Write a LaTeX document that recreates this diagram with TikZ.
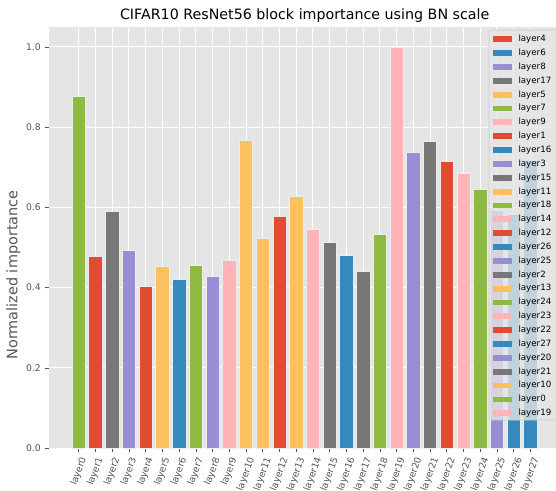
\documentclass[tikz,border=0pt]{standalone}
\usepackage{fontspec}
\setmainfont{DejaVu Sans}
\definecolor{axbg}{HTML}{E5E5E5}
\definecolor{tickgray}{HTML}{555555}
\definecolor{legedge}{HTML}{CCCCCC}
\definecolor{barred}{HTML}{E24A33}
\definecolor{barblue}{HTML}{348ABD}
\definecolor{barpurple}{HTML}{988ED5}
\definecolor{bargray}{HTML}{777777}
\definecolor{baryellow}{HTML}{FBC15E}
\definecolor{bargreen}{HTML}{8EBA42}
\definecolor{barpink}{HTML}{FFB5B8}
\tikzset{
  gridline/.style={white, line width=1bp},
  tickmark/.style={tickgray, line width=0.6bp},
  barbox/.style={draw=white!93!black, line width=0.5bp},
  ticklabel/.style={text=tickgray, inner sep=0pt, font=\fontsize{9.3}{10}\selectfont},
  legtext/.style={anchor=west, inner sep=0pt, font=\fontsize{8.7}{10}\selectfont},
}
\begin{document}
\begin{tikzpicture}[x=1bp, y=-1bp]
\useasboundingbox (0,0) rectangle (556,491);
\fill[white] (0,0) rectangle (556,491);
\begin{scope}
\clip (0,0) rectangle (556,491);
% axes background
\fill[axbg] (49,27.5) rectangle (561,448);
% horizontal grid and y ticks
\foreach \t in {0.0,0.2,0.4,0.6,0.8,1.0} {
  \pgfmathsetmacro\yy{448-401*\t}
  \draw[gridline] (49,\yy) -- (561,\yy);
  \draw[tickmark] (45,\yy) -- (49,\yy);
  \node[ticklabel, anchor=east] (yt\t) at (41,\yy) {\t};
}
% vertical grid and x ticks
\foreach \i in {0,...,27} {
  \pgfmathsetmacro\xc{78.7+16.73*\i}
  \draw[gridline] (\xc,27.5) -- (\xc,448);
  \draw[tickmark] (\xc,448) -- (\xc,452);
  \node[ticklabel, anchor=north] (xt\i) at (\xc,456) {\rotatebox{70}{layer\i}};
}
% bars
\foreach \v/\c [count=\i from 0] in {
  0.878/bargreen, 0.478/barred, 0.591/bargray, 0.492/barpurple,
  0.404/barred, 0.454/baryellow, 0.421/barblue, 0.456/bargreen,
  0.429/barpurple, 0.469/barpink, 0.768/baryellow, 0.524/baryellow,
  0.579/barred, 0.627/baryellow, 0.546/barpink, 0.514/bargray,
  0.481/barblue, 0.441/bargray, 0.534/bargreen, 1.000/barpink,
  0.738/barpurple, 0.766/bargray, 0.715/barred, 0.684/barpink,
  0.646/bargreen, 0.592/barpurple, 0.582/barblue, 0.718/barblue} {
  \pgfmathsetmacro\xl{78.7+16.73*\i-6.69}
  \pgfmathsetmacro\xr{78.7+16.73*\i+6.69}
  \pgfmathsetmacro\yt{448-401*\v}
  \filldraw[barbox, fill=\c] (\xl,448) rectangle (\xr,\yt);
}
% legend
\filldraw[fill=axbg, fill opacity=0.8, draw=legedge, line width=0.6bp, rounded corners=2bp]
  (489,30) rectangle (575,420);
\foreach \n/\c [count=\k from 0] in {
  4/barred, 6/barblue, 8/barpurple, 17/bargray, 5/baryellow, 7/bargreen,
  9/barpink, 1/barred, 16/barblue, 3/barpurple, 15/bargray, 11/baryellow,
  18/bargreen, 14/barpink, 12/barred, 26/barblue, 25/barpurple, 2/bargray,
  13/baryellow, 24/bargreen, 23/barpink, 22/barred, 27/barblue, 20/barpurple,
  21/bargray, 10/baryellow, 0/bargreen, 19/barpink} {
  \pgfmathsetmacro\ly{39.3+13.85*\k}
  \fill[\c] (492.7,\ly-2.9) rectangle (511.7,\ly+2.9);
  \node[legtext] (leg\n) at (518.3,\ly) {layer\n};
}
\end{scope}
% title and axis label
\node[inner sep=0pt, font=\fontsize{14.3}{16}\selectfont] (title) at (304.7,15.5)
  {CIFAR10 ResNet56 block importance using BN scale};
\node[inner sep=0pt, rotate=90, text=tickgray, font=\fontsize{14.5}{16}\selectfont] (ylab) at (13.3,275)
  {Normalized importance};
\end{tikzpicture}
\end{document}
